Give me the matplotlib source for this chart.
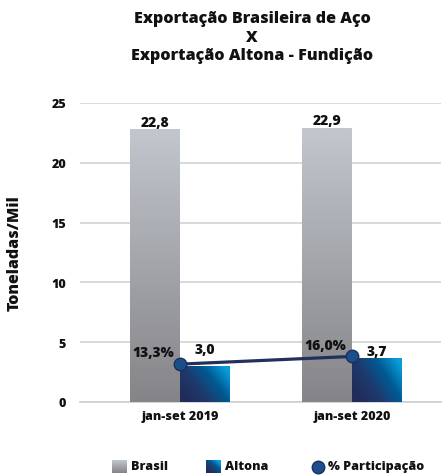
import numpy as np
import matplotlib
matplotlib.use("Agg")
import matplotlib.pyplot as plt
from matplotlib.colors import LinearSegmentedColormap

plt.rcParams['font.family'] = ['Open Sans', 'DejaVu Sans']
WT = 800
plt.rcParams['font.weight'] = WT

# ---- data ----
categories = ["jan-set 2019", "jan-set 2020"]
brasil = [22.8, 22.9]
altona = [3.0, 3.7]
participacao = [13.3, 16.0]
brasil_labels = ["22,8", "22,9"]
altona_labels = ["3,0", "3,7"]
pct_labels = ["13,3%", "16,0%"]
yticks = [0, 5, 10, 15, 20, 25]
series_names = ["Brasil", "Altona", "% Participação"]

W, H, DPI = 443, 477, 100
fig = plt.figure(figsize=(W / DPI, H / DPI), dpi=DPI)

def px(x0, y0, x1, y1):
    return [x0 / W, 1 - y1 / H, (x1 - x0) / W, (y1 - y0) / H]

ax = fig.add_axes(px(80, 104, 441, 403))

gray_cmap = LinearSegmentedColormap.from_list("g", ["#858489", "#a3a5aa", "#c1c7cd"])
blue_cmap = LinearSegmentedColormap.from_list("b", ["#222c5a", "#1e3a6e", "#005a93", "#0a9bd9"])

x = np.arange(len(categories))
bw = 0.29

ax.set_xlim(-0.582, 1.517)
ax.set_ylim(0, 25)

def grad_bar(ax, xl, h, w, cmap, kind):
    bars = ax.bar(xl, h, w, align='edge', color='none', zorder=3)
    for b in bars:
        x0, y0 = b.get_x(), b.get_y()
        x1, y1 = x0 + b.get_width(), y0 + b.get_height()
        n = 100
        if kind == 'v':
            g = np.linspace(y0, y1, n).reshape(-1, 1) * np.ones((1, 2)) / 22.9
        else:
            xx, yy = np.meshgrid(np.linspace(0, 1, n), np.linspace(0, 1, n))
            g = np.clip(0.8 * xx + 0.45 * yy - 0.15, 0, 1)
        im = ax.imshow(g, cmap=cmap, vmin=0, vmax=1, origin='lower',
                       extent=[x0, x1, y0, y1], aspect='auto', zorder=3,
                       interpolation='bilinear')
        im.set_clip_path(b)
    return bars

grad_bar(ax, x - bw, brasil, bw, gray_cmap, 'v')
grad_bar(ax, x, altona, bw, blue_cmap, 'd')

DFS = 10
FS = 9
TC = '#111111'
for xi, v, lab in zip(x, brasil, brasil_labels):
    ax.annotate(lab, (xi - bw / 2, v), xytext=(0, 0.5), textcoords='offset points',
                ha='center', va='bottom', fontsize=DFS, fontweight=WT, color=TC, zorder=6)
alt_offsets = [7.0, 0.0]
for xi, v, lab, off in zip(x, altona, altona_labels, alt_offsets):
    ax.annotate(lab, (xi + bw / 2, v), xytext=(0, off), textcoords='offset points',
                ha='center', va='bottom', fontsize=DFS, fontweight=WT, color=TC, zorder=6)

ax.set_yticks(yticks)
ax.set_yticklabels([str(t) for t in yticks], fontsize=FS, fontweight=WT, color=TC)
ax.set_xticks(x)
ax.set_xticklabels(categories, fontsize=FS, fontweight=WT, color=TC)
ax.tick_params(axis='y', length=0, pad=10)
ax.tick_params(axis='x', length=0, pad=6)
ax.grid(axis='y', color='#d3d3d3', linewidth=1.2, zorder=0)
ax.set_axisbelow(True)
for s in ['top', 'right', 'left']:
    ax.spines[s].set_visible(False)
ax.spines['bottom'].set_color('#cfcfcf')
ax.spines['bottom'].set_linewidth(1.2)
ax.set_ylabel("Toneladas/Mil", fontsize=11.5, fontweight=WT, color=TC)
ax.yaxis.set_label_coords(-0.16, 0.5)

ax2 = ax.twinx()
ax2.set_ylim(0, 105)
ax2.set_yticks([])
for s in ax2.spines.values():
    s.set_visible(False)
ax2.plot(x, participacao, color='#23305e', linewidth=2.3, zorder=5,
         marker='o', markersize=9, markerfacecolor='#1b4f8c', markeredgecolor='#1f2d5c',
         markeredgewidth=1.0)
for xi, v, lab in zip(x, participacao, pct_labels):
    ax2.annotate(lab, (xi, v), xytext=(-4, 3.5), textcoords='offset points',
                 ha='right', va='bottom', fontsize=DFS, fontweight=WT, color=TC, zorder=6)

# title
TFS = 11.6
for yy_, t in zip([19, 37.5, 56], ["Exportação Brasileira de Aço", "X", "Exportação Altona - Fundição"]):
    fig.text(252 / W, 1 - yy_ / H, t, ha='center', va='center',
             fontsize=TFS, fontweight=WT, color=TC)

# legend
la = fig.add_axes(px(112, 461, 127, 474))
la.imshow(np.linspace(1, 0, 50).reshape(-1, 1) * np.ones((1, 2)), cmap=gray_cmap,
          aspect='auto', vmin=0, vmax=1)
la.axis('off')
lb = fig.add_axes(px(206, 461, 221, 474))
xx, yy = np.meshgrid(np.linspace(0, 1, 50), np.linspace(1, 0, 50))
lb.imshow(np.clip(0.7 * xx + 0.7 * yy - 0.2, 0, 1), cmap=blue_cmap, aspect='auto', vmin=0, vmax=1)
lb.axis('off')
for xt, name in zip([131, 225, 328], series_names):
    fig.text(xt / W, 1 - 467.5 / H, name, ha='left', va='center', fontsize=FS,
             fontweight=WT, color=TC)
fig.lines.append(plt.Line2D([317.5 / W], [1 - 467.5 / H], marker='o', markersize=9,
                            markerfacecolor='#1b4f8c', markeredgecolor='#1f2d5c',
                            transform=fig.transFigure, linestyle='none'))

fig.savefig("out.png", dpi=DPI)
